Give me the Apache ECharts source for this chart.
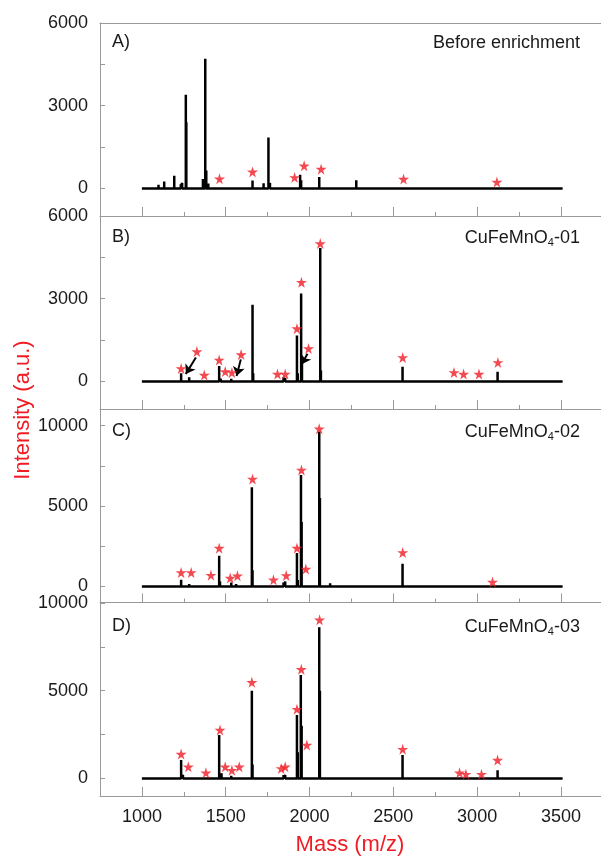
<!DOCTYPE html>
<html>
<head>
<meta charset="utf-8">
<script src="https://cdn.jsdelivr.net/npm/echarts@6/dist/echarts.min.js"></script>
<style>
html, body { margin: 0; padding: 0; background: #fff; }
#chart { width: 601px; height: 862px; }
</style>
</head>
<body>
<div id="chart"></div>
<script>
// peaks: [mass, intensity]
var peaksA = [[1030,40],[1099,130],[1133,250],[1193,460],[1232,150],[1240,200],[1262,3400],[1265,2400],[1298,60],
    [1364,340],[1378,4700],[1384,650],[1396,180],[1463,70],[1543,30],[1660,290],[1726,190],[1755,1850],[1764,200],
    [1944,500],[1950,300],[2058,410],[2279,300],[2315,40],[2561,30],[3118,60],[3192,30]];
var peaksB = [[1066,40],[1234,300],[1282,150],[1461,560],[1470,100],[1533,100],[1560,60],[1660,2780],[1664,300],
    [1845,150],[1855,120],[1925,1670],[1930,300],[1950,3190],[1955,800],[2064,4840],[2068,400],[2555,530],[3122,350]];
var peaksC = [[1066,100],[1234,415],[1282,150],[1461,1900],[1466,300],[1533,250],[1562,150],[1656,6170],[1660,1000],
    [1726,100],[1845,250],[1855,300],[1925,2070],[1930,400],[1949,6930],[1953,4000],[2058,9620],[2062,5500],
    [2123,200],[2458,50],[2555,1410]];
var peaksD = [[1030,100],[1234,1045],[1245,200],[1461,2470],[1475,300],[1533,150],[1656,5000],[1660,800],[1845,200],
    [1855,200],[1925,3610],[1930,1500],[1948,5900],[1953,3000],[2058,8620],[2062,5000],[2555,1330],[3122,470]];

// red star markers: [mass, intensity]
var starsA = [[1463,350],[1660,600],[1911,400],[1968,820],[2069,700],[2561,340],[3118,230]];
var starsB = [[1234,470],[1328,1085],[1372,230],[1461,780],[1497,360],[1537,325],[1592,975],[1809,265],[1855,265],
    [1925,1915],[1952,3600],[1994,1190],[2064,5000],[2556,870],[2862,325],[2919,265],[3011,265],[3124,690]];
var starsC = [[1234,870],[1294,870],[1412,700],[1461,2380],[1527,520],[1570,660],[1660,6680],[1785,415],[1861,680],
    [1925,2380],[1952,7240],[1978,1080],[2058,9800],[2556,2110],[3092,270]];
var starsD = [[1234,1390],[1277,660],[1382,320],[1466,2760],[1497,660],[1537,470],[1581,660],[1656,5480],[1831,570],
    [1855,660],[1925,3950],[1951,6220],[1984,1900],[2060,9040],[2556,1670],[2895,320],[2933,245],[3026,245],[3122,1045]];

// arrows in panel B: [from, to]
var arrowsB = [[[1322,870],[1262,270]], [[1590,800],[1565,200]], [[1988,1000],[1953,620]]];

var panelNames = ['A)', 'B)', 'C)', 'D)'];
var panelTitles = ['Before enrichment', '{a|CuFeMnO}{s|4}{a|-01}', '{a|CuFeMnO}{s|4}{a|-02}', '{a|CuFeMnO}{s|4}{a|-03}'];
var yMin = [-1000, -1000, -1000, -1000];
var yMax = [6000, 6000, 11000, 10000];
var yTicks = [[0,1500,3000,4500,6000],[0,1500,3000,4500,6000],[0,2500,5000,7500,10000],[0,2500,5000,7500,10000]];
var yLabels = [[0,3000,6000],[0,3000,6000],[0,5000,10000],[0,5000,10000]];
var xMajor = [1000,1500,2000,2500,3000,3500];
var xMinor = [1250,1750,2250,2750,3250];
var xMin = 750, xMax = 3739;
var baseStart = 1000, baseEnd = 3510;

var FONT = "'Liberation Sans', Arial, sans-serif";
var RED = '#f01c24';
var GRAY = '#999';
var TXT = '#1a1a1a';
var gridTops = [23, 216, 409.5, 603];
var panelTextY = [43, 238, 432, 627];

var starPath = 'path://M50,0 L61,35 L98,35 L68,57 L79,91 L50,70 L21,91 L32,57 L2,35 L39,35 Z';

function stickData(peaks) {
    var arr = peaks.slice().sort(function (a, b) { return a[0] - b[0]; });
    var out = [[baseStart, 0]];
    for (var i = 0; i < arr.length; i++) {
        out.push([arr[i][0], 0]);
        out.push([arr[i][0], arr[i][1]]);
        out.push([arr[i][0], 0]);
    }
    out.push([baseEnd, 0]);
    return out;
}

function plain(v) { return String(v); }

var peaks = [peaksA, peaksB, peaksC, peaksD];
var stars = [starsA, starsB, starsC, starsD];

var grids = [], xAxes = [], yAxes = [], series = [], graphics = [];
for (var i = 0; i < 4; i++) {
    grids.push({ left: 100, top: gridTops[i], width: 501, height: 193 });
    // main x axis, long ticks
    xAxes.push({
        type: 'value', gridIndex: i, position: 'bottom', min: xMin, max: xMax,
        axisLine: { show: true, onZero: false, lineStyle: { color: GRAY, width: 1 } },
        axisTick: { show: true, inside: true, length: 9, customValues: xMajor, lineStyle: { color: GRAY } },
        axisLabel: { show: i === 3, customValues: xMajor, formatter: plain, margin: 12, color: TXT, fontSize: 18, fontFamily: FONT },
        splitLine: { show: false }
    });
    // minor ticks
    xAxes.push({
        type: 'value', gridIndex: i, position: 'bottom', min: xMin, max: xMax,
        axisLine: { show: false, onZero: false },
        axisTick: { show: true, inside: true, length: 4, customValues: xMinor, lineStyle: { color: GRAY } },
        axisLabel: { show: false },
        splitLine: { show: false }
    });
    yAxes.push({
        type: 'value', gridIndex: i, min: yMin[i], max: yMax[i],
        axisLine: { show: true, onZero: false, lineStyle: { color: GRAY, width: 1 } },
        axisTick: { show: true, inside: true, length: 5, customValues: yTicks[i], lineStyle: { color: GRAY } },
        axisLabel: { show: true, customValues: yLabels[i], formatter: plain, margin: 12, color: TXT, fontSize: 18, fontFamily: FONT },
        splitLine: { show: false }
    });
    series.push({
        type: 'line', xAxisIndex: i * 2, yAxisIndex: i,
        data: stickData(peaks[i]),
        showSymbol: false, symbol: 'none',
        lineStyle: { color: '#000', width: 2.5 },
        animation: false, silent: true
    });
    series.push({
        type: 'scatter', xAxisIndex: i * 2, yAxisIndex: i,
        data: stars[i],
        symbol: starPath, symbolSize: 11,
        itemStyle: { color: RED },
        animation: false, silent: true, z: 5
    });
    graphics.push({
        type: 'text', left: 112, top: panelTextY[i] - 10,
        style: { text: panelNames[i], font: '18px ' + FONT, fill: TXT }
    });
    graphics.push({
        type: 'text', x: 580, y: panelTextY[i],
        style: {
            text: panelTitles[i], align: 'right', verticalAlign: 'middle',
            font: '18px ' + FONT, fill: TXT,
            rich: {
                a: { fontSize: 18, fontFamily: FONT, fill: TXT, lineHeight: 22 },
                s: { fontSize: 11, fontFamily: FONT, fill: TXT, lineHeight: 22, padding: [10, 0, 0, 0] }
            }
        }
    });
}

// top frame line of panel A
xAxes.push({
    type: 'value', gridIndex: 0, position: 'top', min: xMin, max: xMax,
    axisLine: { show: true, onZero: false, lineStyle: { color: GRAY, width: 1 } },
    axisTick: { show: false }, axisLabel: { show: false }, splitLine: { show: false }
});

series.push({
    type: 'lines', coordinateSystem: 'cartesian2d', xAxisIndex: 2, yAxisIndex: 1,
    data: arrowsB.map(function (a) { return { coords: a }; }),
    symbol: ['none', 'arrow'], symbolSize: 9,
    lineStyle: { color: '#000', width: 2, opacity: 1 },
    animation: false, silent: true, z: 4
});

graphics.push({
    type: 'text', x: 23, y: 410, rotation: Math.PI / 2,
    style: { text: 'Intensity (a.u.)', align: 'center', verticalAlign: 'middle', font: '22px ' + FONT, fill: RED }
});
graphics.push({
    type: 'text', x: 350, y: 845,
    style: { text: 'Mass (m/z)', align: 'center', verticalAlign: 'middle', font: '22px ' + FONT, fill: RED }
});

var chart = echarts.init(document.getElementById('chart'));
chart.setOption({
    animation: false,
    backgroundColor: '#fff',
    grid: grids,
    xAxis: xAxes,
    yAxis: yAxes,
    series: series,
    graphic: graphics
});
</script>
</body>
</html>
